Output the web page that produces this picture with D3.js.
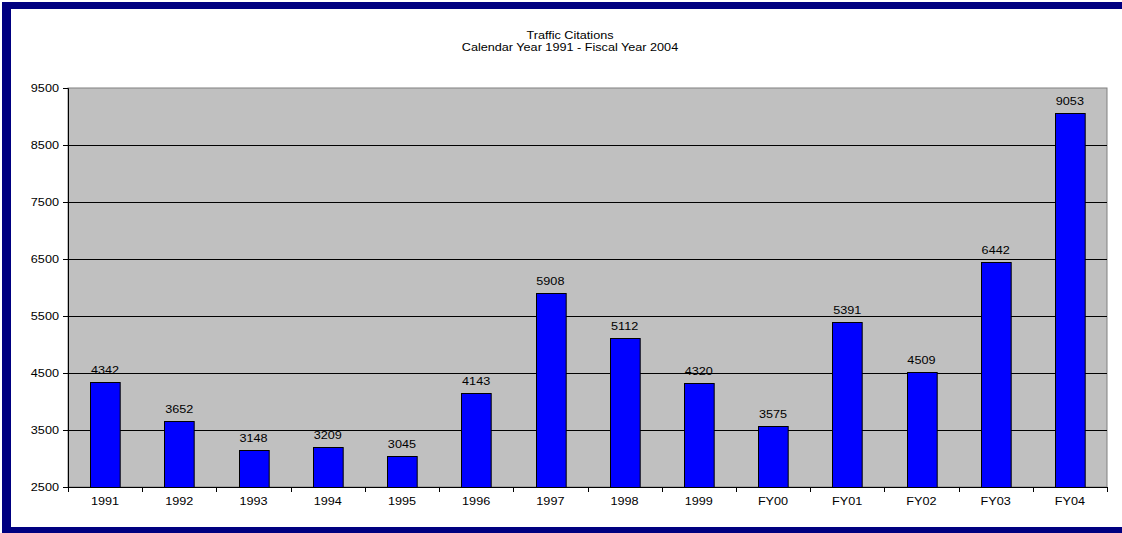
<!DOCTYPE html>
<html>
<head>
<meta charset="utf-8">
<script src="https://cdn.jsdelivr.net/npm/d3@7"></script>
<style>
  body { margin: 0; background: #fff; }
  svg { display: block; font-family: Arial, "Liberation Sans", sans-serif; }
  .wide { transform-box: fill-box; transform: scaleX(1.15); }
</style>
</head>
<body>
<svg width="1122" height="533"></svg>
<script>
var categories = ['1991', '1992', '1993', '1994', '1995', '1996', '1997', '1998', '1999',
  'FY00', 'FY01', 'FY02', 'FY03', 'FY04'];
var citations = [4342, 3652, 3148, 3209, 3045, 4143, 5908, 5112, 4320, 3575, 5391, 4509, 6442, 9053];
var yTicks = [2500, 3500, 4500, 5500, 6500, 7500, 8500, 9500];
var titleLines = ['Traffic Citations', 'Calendar Year 1991 - Fiscal Year 2004'];

var svg = d3.select('svg');
var width = Number(svg.attr('width'));
var height = Number(svg.attr('height'));
var font = 'Arial, "Liberation Sans", sans-serif';

// text in the original is a bit wider than plain Arial
function widen(sel, origin) {
  sel.classed('wide', true).style('transform-origin', origin);
}

// navy frame (left, top, bottom)
svg.append('rect').attr('x', 2).attr('y', 2).attr('width', width - 2).attr('height', 7).attr('fill', '#000080');
svg.append('rect').attr('x', 2).attr('y', 2).attr('width', 9).attr('height', height - 2).attr('fill', '#000080');
svg.append('rect').attr('x', 2).attr('y', 527).attr('width', width - 2).attr('height', 6).attr('fill', '#000080');

var plot = { left: 68, top: 88, right: 1107, bottom: 487 };

var x = d3.scaleBand()
  .domain(categories)
  .range([plot.left, plot.right])
  .paddingInner(0.6)
  .paddingOuter(0.3);
var xEdges = d3.scaleBand().domain(categories).range([plot.left, plot.right]);

var y = d3.scaleLinear()
  .domain([2500, 9500])
  .range([plot.bottom, plot.top]);

// title
svg.append('g').selectAll('text')
  .data(titleLines)
  .enter().append('text')
  .attr('x', 570)
  .attr('y', function (d, i) { return 39 + i * 12; })
  .attr('text-anchor', 'middle')
  .attr('font-size', 11)
  .attr('fill', '#000')
  .text(function (d) { return d; })
  .call(widen, 'center');

// plot area
svg.append('rect')
  .attr('x', plot.left).attr('y', plot.top)
  .attr('width', plot.right - plot.left).attr('height', plot.bottom - plot.top)
  .attr('fill', '#c0c0c0').attr('stroke', '#808080');

// gridlines
svg.append('g').selectAll('line')
  .data(yTicks.slice(1, -1))
  .enter().append('line')
  .attr('x1', plot.left).attr('x2', plot.right)
  .attr('y1', function (d) { return Math.round(y(d)) + 0.5; })
  .attr('y2', function (d) { return Math.round(y(d)) + 0.5; })
  .attr('stroke', '#000').attr('stroke-width', 1);

// bars
svg.append('g').selectAll('rect')
  .data(citations)
  .enter().append('rect')
  .attr('x', function (d, i) { return Math.round(x(categories[i])) + 0.5; })
  .attr('y', function (d) { return Math.round(y(d)) + 0.5; })
  .attr('width', x.bandwidth())
  .attr('height', function (d) { return plot.bottom - Math.round(y(d)); })
  .attr('fill', '#0000ff')
  .attr('stroke', '#000').attr('stroke-width', 1);

// value labels
svg.append('g').selectAll('text')
  .data(citations)
  .enter().append('text')
  .attr('x', function (d, i) { return x(categories[i]) + x.bandwidth() / 2; })
  .attr('y', function (d) { return y(d) - 8; })
  .attr('text-anchor', 'middle')
  .attr('font-size', 11)
  .attr('fill', '#000')
  .text(function (d) { return d; })
  .call(widen, 'center');

// y axis
var yAxis = svg.append('g')
  .attr('transform', 'translate(' + plot.left + ',0)')
  .call(d3.axisLeft(y).tickValues(yTicks).tickSize(5).tickPadding(4).tickFormat(d3.format('d')));
yAxis.select('.domain').attr('stroke', '#000');
yAxis.selectAll('.tick line').attr('stroke', '#000');
yAxis.selectAll('text').attr('font-size', 11).attr('fill', '#000').attr('font-family', font)
  .call(widen, 'right center');

// x axis
var xAxis = svg.append('g')
  .attr('transform', 'translate(0,' + plot.bottom + ')')
  .call(d3.axisBottom(x).tickSize(0).tickPadding(10));
xAxis.select('.domain').attr('stroke', '#000');
xAxis.selectAll('text').attr('font-size', 11).attr('fill', '#000').attr('font-family', font)
  .call(widen, 'center');

// category boundary ticks
svg.append('g').selectAll('line')
  .data(categories.concat(['end']))
  .enter().append('line')
  .attr('x1', function (d, i) { return Math.round(i < categories.length ? xEdges(d) : plot.right) + 0.5; })
  .attr('x2', function (d, i) { return Math.round(i < categories.length ? xEdges(d) : plot.right) + 0.5; })
  .attr('y1', plot.bottom).attr('y2', plot.bottom + 5)
  .attr('stroke', '#000');
</script>
</body>
</html>
